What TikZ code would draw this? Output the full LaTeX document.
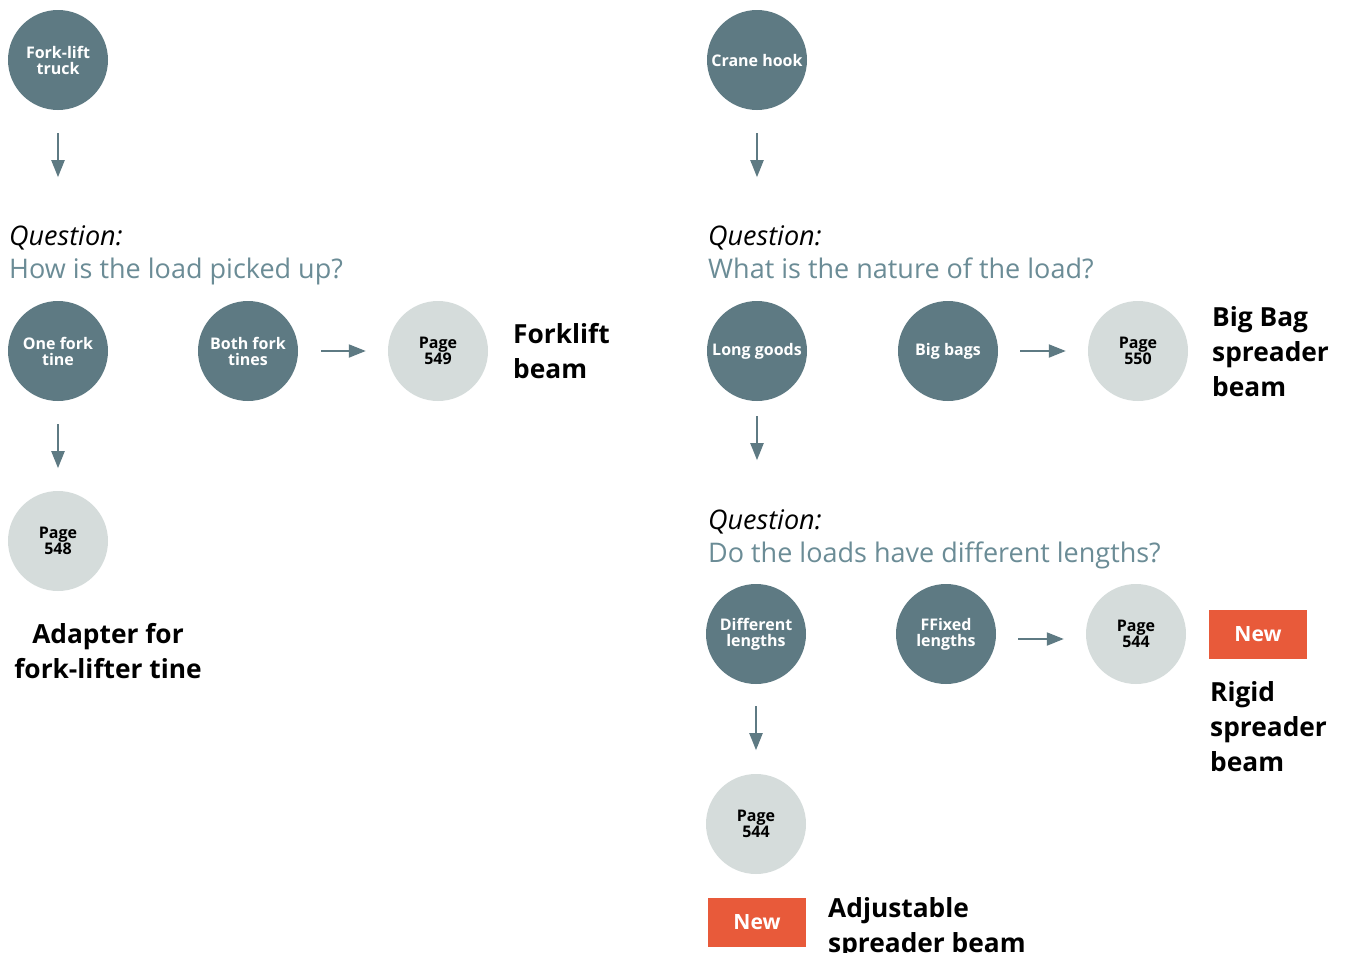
\documentclass[tikz,border=0pt]{standalone}
\usepackage{fontspec}
\setmainfont{Open Sans}
\usetikzlibrary{arrows.meta}
\definecolor{dark}{HTML}{5E7A83}
\definecolor{light}{HTML}{D5DCDB}
\definecolor{qblue}{HTML}{6B8C96}
\definecolor{neworange}{HTML}{E85A3A}
\tikzset{
  choice/.style={circle, fill=dark, minimum size=100pt, inner sep=0pt, text=white,
    font=\fontsize{16}{16}\selectfont\bfseries, align=center},
  pagec/.style={circle, fill=light, minimum size=100pt, inner sep=0pt, text=black,
    font=\fontsize{16}{16}\selectfont\bfseries, align=center},
  flow/.style={draw=dark, line width=2pt, -{Triangle[length=17pt 0 0,width=13pt 0 0]}, fill=dark},
  question/.style={anchor=base west, align=left, inner sep=0pt, font=\fontsize{27}{33}\selectfont},
  result/.style={anchor=base west, align=left, inner sep=0pt, font=\fontsize{26.3}{35}\selectfont\bfseries},
  newbox/.style={fill=neworange, minimum width=98pt, minimum height=49pt, inner sep=0pt, text=white,
    font=\fontsize{21}{21}\selectfont\bfseries},
}
\begin{document}
\begin{tikzpicture}[x=1pt,y=-1pt]
\useasboundingbox[fill=white] (0,0) rectangle (1345,953);
% ---- left column
\node[choice] (ft) at (58,60) {Fork-lift\\truck};
\node[question] (q1) at (9,278) {\textit{Question:}\\\textcolor{qblue}{How is the load picked up?}};
\node[choice] (oft) at (58,351) {One fork\\tine};
\node[choice] (bft) at (248,351) {Both fork\\tines};
\node[pagec] (p549) at (438,351) {Page\\549};
\node[result] (r549) at (513,378) {Forklift\\beam};
\node[pagec] (p548) at (58,541) {Page\\548};
\node[result, anchor=base, align=center] (r548) at (108,678) {Adapter for\\fork-lifter tine};
\draw[flow] ([yshift=-23pt]ft.south) -- ([yshift=-67pt]ft.south);
\draw[flow] ([xshift=23pt]bft.east) -- ([xshift=-22pt]p549.west);
\draw[flow] ([yshift=-23pt]oft.south) -- ([yshift=-67pt]oft.south);
% ---- right column
\node[choice] (ch) at (757,60) {Crane hook};
\node[question] (q2) at (708,278) {\textit{Question:}\\\textcolor{qblue}{What is the nature of the load?}};
\node[choice] (lg) at (757,351) {Long goods};
\node[choice] (bb) at (948,351) {Big bags};
\node[pagec] (p550) at (1138,351) {Page\\550};
\node[result] (r550) at (1212,396) {Big Bag\\spreader\\beam};
\draw[flow] ([yshift=-23pt]ch.south) -- ([yshift=-67pt]ch.south);
\draw[flow] ([xshift=22pt]bb.east) -- ([xshift=-22pt]p550.west);
\draw[flow] ([yshift=-15pt]lg.south) -- ([yshift=-59pt]lg.south);
\node[question] (q3) at (708,562) {\textit{Question:}\\\textcolor{qblue}{Do the loads have different lengths?}};
\node[choice] (dl) at (756,634) {Different\\lengths};
\node[choice] (fl) at (946,634) {FFixed\\lengths};
\node[pagec] (p544a) at (1136,634) {Page\\544};
\node[newbox] (new1) at (1258,634) {New};
\node[result] (r544a) at (1210,771) {Rigid\\spreader\\beam};
\draw[flow] ([xshift=22pt,yshift=-5pt]fl.east) -- ([xshift=-22pt,yshift=-5pt]p544a.west);
\draw[flow] ([yshift=-22pt]dl.south) -- ([yshift=-66pt]dl.south);
\node[pagec] (p544b) at (756,824) {Page\\544};
\node[newbox] (new2) at (757,922) {New};
\node[result] (r544b) at (828,952) {Adjustable\\spreader beam};
\end{tikzpicture}
\end{document}
